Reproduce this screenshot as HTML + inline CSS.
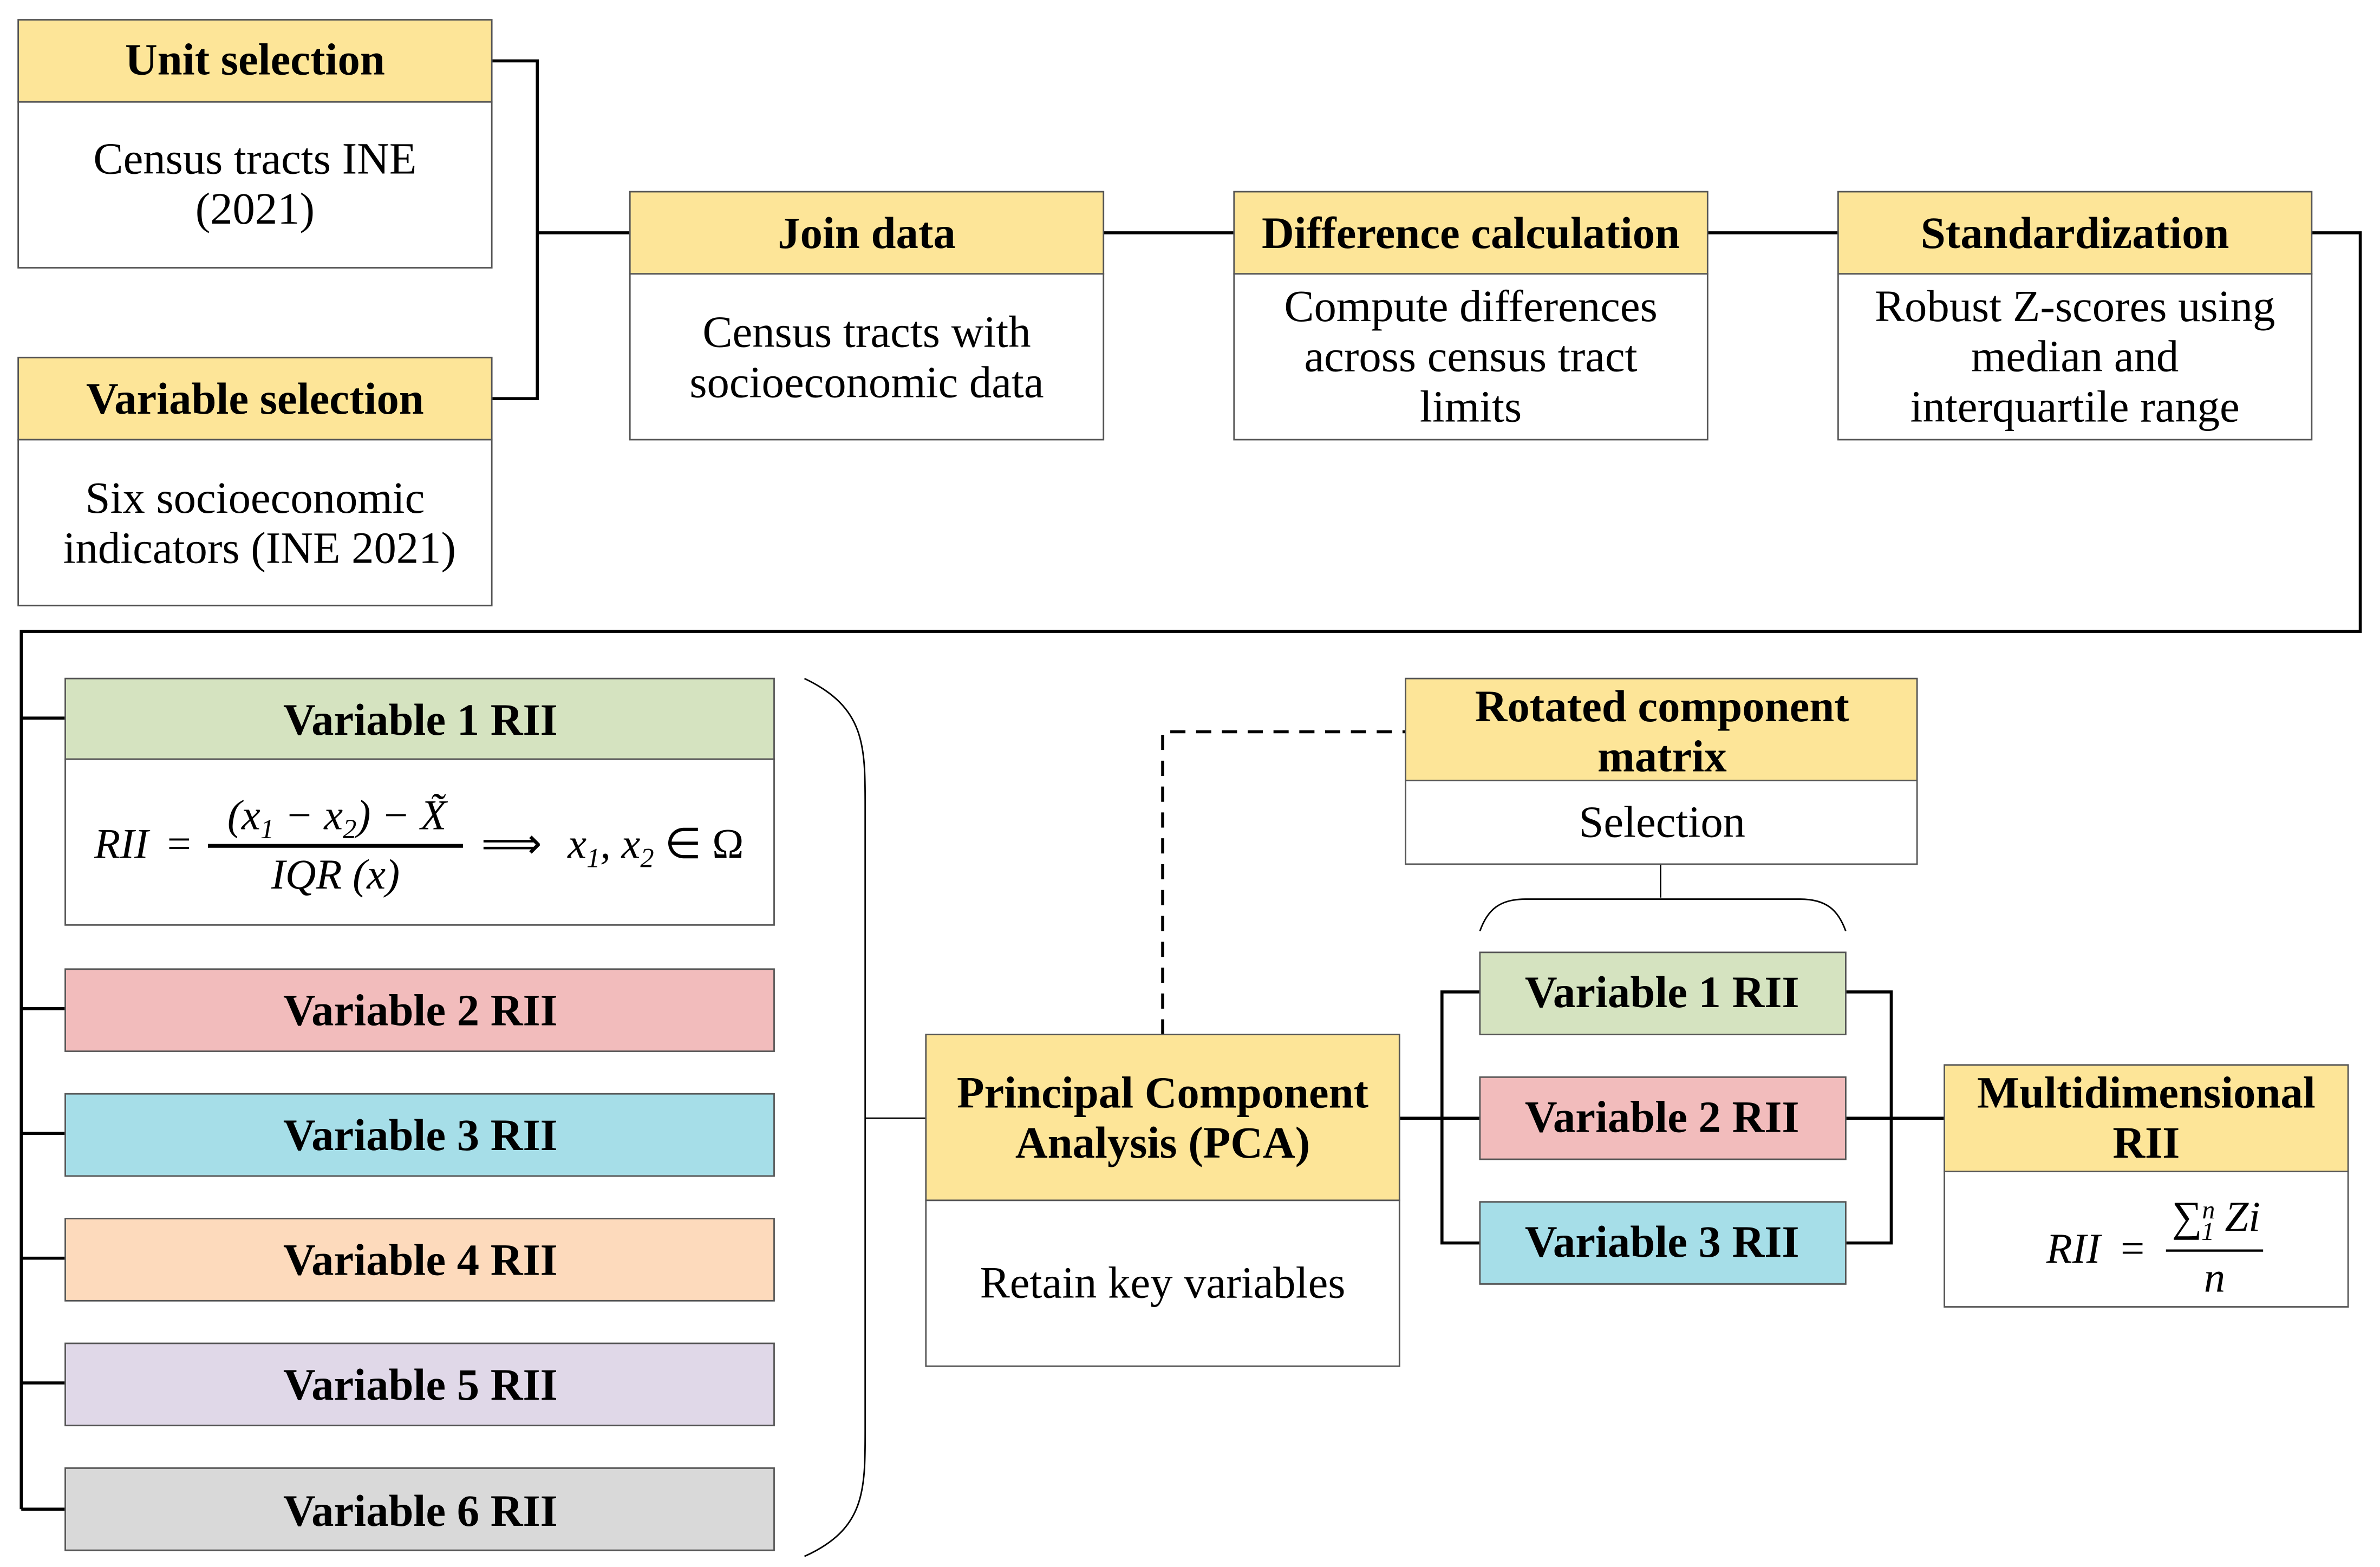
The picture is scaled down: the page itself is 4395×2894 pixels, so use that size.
<!DOCTYPE html>
<html><head><meta charset="utf-8"><style>html,body{margin:0;padding:0;background:#fff}svg{display:block}</style></head>
<body>
<svg xmlns="http://www.w3.org/2000/svg" width="4395" height="2894" viewBox="0 0 1568 1030" preserveAspectRatio="none">
<rect width="1568" height="1030" fill="#fff"/>
<g font-family="Liberation Serif, serif" text-anchor="middle">
<g stroke="#000" stroke-width="2" fill="none">
<polyline points="324,40 354,40 354,262 324,262"/>
<line x1="354" y1="153" x2="415" y2="153"/>
<line x1="727" y1="153" x2="813" y2="153"/>
<line x1="1125" y1="153" x2="1211" y2="153"/>
<polyline points="1523,153 1555,153 1555,415 14,415 14,992"/>
<line x1="14" y1="472" x2="43" y2="472"/>
<line x1="14" y1="663" x2="43" y2="663"/>
<line x1="14" y1="745" x2="43" y2="745"/>
<line x1="14" y1="827" x2="43" y2="827"/>
<line x1="14" y1="909" x2="43" y2="909"/>
<line x1="14" y1="992" x2="43" y2="992"/>
<line x1="922" y1="735" x2="950" y2="735"/>
<polyline points="975,652 950,652 950,817 975,817"/>
<line x1="950" y1="735" x2="975" y2="735"/>
<polyline points="1216,652 1246,652 1246,817 1216,817"/>
<line x1="1216" y1="735" x2="1281" y2="735"/>
</g>
<g stroke="#000" stroke-width="1" fill="none">
<path d="M530,446 C570,465 570,490 570,530 L570,940 C570,980 570,1005 530,1023"/>
<line x1="570" y1="735" x2="610" y2="735"/>
<line x1="1094" y1="568" x2="1094" y2="590"/>
<path d="M975,612 C980,598 988,591 1005,591 L1186,591 C1203,591 1211,598 1216,612"/>
</g>
<polyline points="766,680 766,481 926,481" stroke="#000" stroke-width="2" fill="none" stroke-dasharray="10,7"/>
<g stroke="#555" stroke-width="1">
<rect x="12" y="13" width="312" height="54" fill="#fde598"/><rect x="12" y="67" width="312" height="109" fill="#fff"/>
<rect x="12" y="235" width="312" height="54" fill="#fde598"/><rect x="12" y="289" width="312" height="109" fill="#fff"/>
<rect x="415" y="126" width="312" height="54" fill="#fde598"/><rect x="415" y="180" width="312" height="109" fill="#fff"/>
<rect x="813" y="126" width="312" height="54" fill="#fde598"/><rect x="813" y="180" width="312" height="109" fill="#fff"/>
<rect x="1211" y="126" width="312" height="54" fill="#fde598"/><rect x="1211" y="180" width="312" height="109" fill="#fff"/>
<rect x="43" y="446" width="467" height="53" fill="#d5e3c0"/><rect x="43" y="499" width="467" height="109" fill="#fff"/>
<rect x="43" y="637" width="467" height="54" fill="#f2bcbc"/>
<rect x="43" y="719" width="467" height="54" fill="#a6dee8"/>
<rect x="43" y="801" width="467" height="54" fill="#fddabc"/>
<rect x="43" y="883" width="467" height="54" fill="#e0d8e8"/>
<rect x="43" y="965" width="467" height="54" fill="#d9d9d9"/>
<rect x="610" y="680" width="312" height="109" fill="#fde598"/><rect x="610" y="789" width="312" height="109" fill="#fff"/>
<rect x="926" y="446" width="337" height="67" fill="#fde598"/><rect x="926" y="513" width="337" height="55" fill="#fff"/>
<rect x="975" y="626" width="241" height="54" fill="#d5e3c0"/>
<rect x="975" y="708" width="241" height="54" fill="#f2bcbc"/>
<rect x="975" y="790" width="241" height="54" fill="#a6dee8"/>
<rect x="1281" y="700" width="266" height="70" fill="#fde598"/><rect x="1281" y="770" width="266" height="89" fill="#fff"/>
</g>
<g font-weight="bold" font-size="29.5">
<text x="168" y="49">Unit selection</text>
<text x="168" y="272">Variable selection</text>
<text x="571" y="163">Join data</text>
<text x="969" y="163">Difference calculation</text>
<text x="1367" y="163">Standardization</text>
<text x="277" y="483">Variable 1 RII</text>
<text x="277" y="674">Variable 2 RII</text>
<text x="277" y="756">Variable 3 RII</text>
<text x="277" y="838">Variable 4 RII</text>
<text x="277" y="920">Variable 5 RII</text>
<text x="277" y="1003">Variable 6 RII</text>
<text x="766" y="728">Principal Component</text>
<text x="766" y="761">Analysis (PCA)</text>
<text x="1095" y="474">Rotated component</text>
<text x="1095" y="507">matrix</text>
<text x="1095" y="662">Variable 1 RII</text>
<text x="1095" y="744">Variable 2 RII</text>
<text x="1095" y="826">Variable 3 RII</text>
<text x="1414" y="728">Multidimensional</text>
<text x="1414" y="761">RII</text>
</g>
<g font-size="29.5">
<text x="168" y="114">Census tracts INE</text>
<text x="168" y="147">(2021)</text>
<text x="168" y="337">Six socioeconomic</text>
<text x="171" y="370">indicators (INE 2021)</text>
<text x="571" y="228">Census tracts with</text>
<text x="571" y="261">socioeconomic data</text>
<text x="969" y="211">Compute differences</text>
<text x="969" y="244">across census tract</text>
<text x="969" y="277">limits</text>
<text x="1367" y="211">Robust Z-scores using</text>
<text x="1367" y="244">median and</text>
<text x="1367" y="277">interquartile range</text>
<text x="766" y="853">Retain key variables</text>
<text x="1095" y="550">Selection</text>
</g>
<g font-size="28" font-style="italic">
<text x="80" y="564">RII</text><text x="118" y="564" font-style="normal">=</text>
<text x="222" y="545">(x<tspan font-size="18" dy="6">1</tspan><tspan dy="-6"> − x</tspan><tspan font-size="18" dy="6">2</tspan><tspan dy="-6">) − X̃</tspan></text>
<line x1="137" y1="556" x2="305" y2="556" stroke="#000" stroke-width="2.5"/>
<text x="221" y="584">IQR (x)</text>
<text x="337" y="564" font-style="normal">⟹</text>
<text x="432" y="564">x<tspan font-size="18" dy="6">1</tspan><tspan dy="-6">, x</tspan><tspan font-size="18" dy="6">2</tspan><tspan dy="-6" font-style="normal"> ∈ Ω</tspan></text>
<text x="1366" y="830">RII</text><text x="1405" y="830" font-style="normal">=</text>
<text x="1460" y="809"><tspan font-style="normal">∑</tspan><tspan font-size="17" dy="-8">n</tspan><tspan font-size="17" dx="-9" dy="14">1</tspan><tspan dy="-6"> Zi</tspan></text>
<line x1="1427" y1="822" x2="1491" y2="822" stroke="#000" stroke-width="1.5"/>
<text x="1459" y="849">n</text>
</g>
</g>
</svg>
</body></html>
